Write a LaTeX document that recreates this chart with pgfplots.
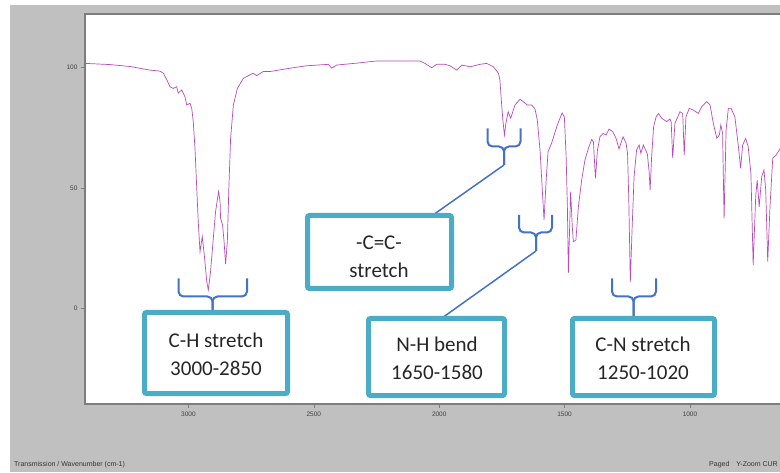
\documentclass[border=0pt]{standalone}
\usepackage{pgfplots}
\pgfplotsset{compat=1.18}
\usepackage{fontspec}
\setmainfont{Carlito}
\newfontfamily\tickfont{Liberation Sans}
\definecolor{bggray}{RGB}{192,192,192}
\definecolor{spec}{RGB}{185,75,190}
\definecolor{boxteal}{RGB}{75,172,198}
\definecolor{brblue}{RGB}{68,114,196}
\definecolor{framegray}{RGB}{125,125,125}

\begin{document}
\begin{tikzpicture}[x=1pt,y=1pt]
\path[use as bounding box] (0,0) rectangle (780,472);
\clip (0,0) rectangle (780,472);
\fill[white] (0,0) rectangle (780,472);
\fill[bggray] (10,0) rectangle (780,467);
\begin{axis}[at={(85pt,68pt)}, anchor=south west, scale only axis,
  width=697pt, height=390pt, x dir=reverse,
  xmin=633.1, xmax=3412.7, ymin=-39.76, ymax=122.32,
  xtick={1000,1500,2000,2500,3000}, ytick={0,50,100},
  tick align=outside, major tick length=4pt,
  xtick pos=left, ytick pos=left,
  axis background/.style={fill=white},
  axis line style={framegray, line width=1.2pt},
  tick style={framegray, line width=0.5pt},
  ticklabel style={font=\tickfont\fontsize{6.5}{7}\selectfont, text=black!75},
  /pgf/number format/assume math mode=true,
  /pgf/number format/set thousands separator={}]
\addplot[spec, line width=0.7pt] table {
wn T
3412 101.8
3313 101.3
3233 100.5
3153 99.0
3114 98.6
3100 97.7
3086 94.9
3074 92.1
3061 91.4
3047 92.1
3041 89.4
3027 90.8
3014 87.9
3007 84.5
2994 85.2
2987 83.1
2981 77.6
2974 66.5
2967 49.9
2961 36.0
2954 23.5
2945 29.8
2937 22.2
2927 11.1
2921 7.6
2912 15.2
2901 29.1
2892 40.1
2880 48.5
2874 44.3
2872 37.4
2864 34.6
2858 27.7
2852 18.4
2845 27.7
2839 49.9
2832 70.6
2821 84.5
2805 91.4
2781 95.6
2768 96.3
2742 97.7
2728 96.7
2702 98.4
2675 98.4
2595 99.8
2529 100.8
2442 101.4
2429 99.8
2409 101.1
2329 101.9
2250 102.8
2170 102.8
2077 102.8
2057 101.8
2030 100.0
2010 101.4
1977 101.4
1957 100.8
1930 99.0
1910 101.1
1877 100.4
1837 101.4
1811 101.8
1784 100.4
1764 97.7
1758 94.9
1751 84.5
1746 78.0
1740 72.0
1734 77.0
1725 81.7
1715 79.0
1698 84.5
1678 86.9
1665 85.9
1649 84.5
1631 84.5
1618 82.8
1609 78.3
1598 65.8
1589 49.2
1582 36.7
1574 52.6
1566 65.1
1552 68.6
1529 76.2
1510 81.2
1501 79.5
1494 63.3
1489 42.5
1485 14.7
1476 48.5
1469 33.3
1465 27.7
1455 28.4
1445 42.2
1432 53.3
1419 61.6
1405 66.5
1392 70.2
1385 69.1
1377 54.0
1369 65.8
1359 71.3
1346 72.7
1335 72.0
1323 74.5
1308 73.4
1295 70.7
1283 66.2
1267 71.3
1255 68.7
1249 64.4
1244 45.0
1238 10.9
1231 32.7
1223 54.7
1213 65.8
1203 67.9
1196 64.4
1186 67.9
1170 64.1
1163 56.8
1159 49.2
1153 63.0
1145 75.5
1135 79.6
1126 81.0
1113 79.0
1093 77.6
1080 78.7
1075 77.4
1069 62.4
1060 76.9
1040 81.7
1029 81.0
1023 63.7
1016 79.6
1003 83.1
987 82.4
967 81.0
953 83.8
933 85.9
920 84.5
907 76.9
893 70.7
883 72.0
877 76.2
870 72.7
864 37.4
856 74.1
847 83.1
836 83.1
821 79.6
807 67.2
798 58.2
790 67.9
778 70.6
768 67.2
757 56.1
748 18.0
738 46.4
732 53.3
724 42.2
714 54.7
705 57.5
698 49.2
690 19.4
681 42.2
670 62.4
657 63.7
648 65.1
637 67.0
625 68.7
};
\end{axis}
\begin{scope}[shift={(0,472)}, yscale=-1]
  % brackets and leader lines
  \begin{scope}[brblue, line width=2pt, rounded corners=5pt]
    \draw (178.5,278.5) -- (178.5,296.5) -- (212.5,296.5) -- (212.5,313);
    \draw (247,278.5) -- (247,296.5) -- (212.5,296.5) -- (212.5,313);
    \draw (487.5,128.5) -- (487.5,146.5) -- (504,146.5) -- (504,165);
    \draw (520.5,128.5) -- (520.5,146.5) -- (504,146.5) -- (504,165);
    \draw (519,215) -- (519,232.5) -- (536,232.5) -- (536,251);
    \draw (552,215) -- (552,232.5) -- (536,232.5) -- (536,251);
    \draw (612,278.5) -- (612,296.5) -- (633.5,296.5) -- (633.5,318);
    \draw (656,278.5) -- (656,296.5) -- (633.5,296.5) -- (633.5,318);
  \end{scope}
  \draw[brblue, line width=1.5pt] (504,165) -- (433,215);
  \draw[brblue, line width=1.5pt] (536,251) -- (442,318);
  % boxes
  \begin{scope}[boxteal, line width=5pt, rounded corners=2pt]
    \filldraw[fill=white] (144.5,312.5) rectangle (287.5,393.5);
    \filldraw[fill=white] (307.5,215.5) rectangle (451.5,288.5);
    \filldraw[fill=white] (368.5,318.5) rectangle (504.5,395.5);
    \filldraw[fill=white] (572.5,318.5) rectangle (714.5,395.5);
  \end{scope}
  \begin{scope}[every node/.style={font=\fontsize{21}{28}\selectfont, align=center, text=black!85}]
    \node at (216,354) {C-H stretch\\3000-2850};
    \node at (379,257) {-C=C-\\stretch};
    \node at (437,358) {N-H bend\\1650-1580};
    \node at (643,358) {C-N stretch\\1250-1020};
  \end{scope}
  \node[anchor=west, font=\tickfont\fontsize{7}{8}\selectfont, text=black!80, inner sep=0pt] at (14,465) {Transmission / Wavenumber (cm-1)};
  \node[anchor=east, font=\tickfont\fontsize{7}{8}\selectfont, text=black!80, inner sep=0pt] at (778,465) {Paged\quad Y-Zoom CUR};
\end{scope}
\end{tikzpicture}
\end{document}
